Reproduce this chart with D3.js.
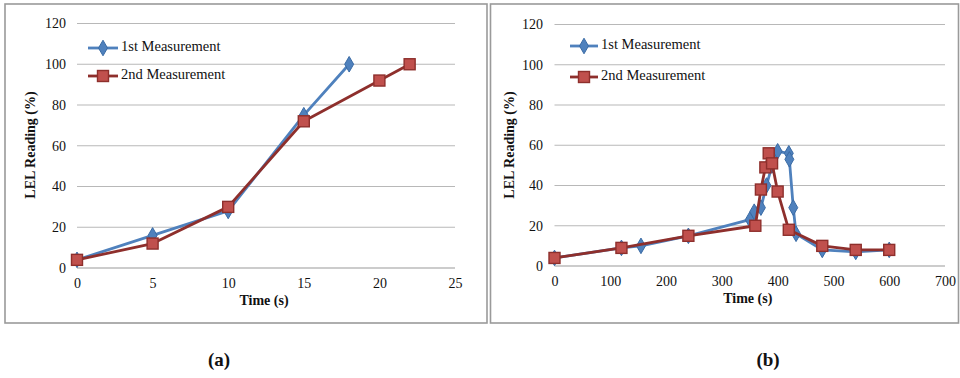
<!DOCTYPE html>
<html>
<head>
<meta charset="utf-8">
<script src="https://cdn.jsdelivr.net/npm/d3@7/dist/d3.min.js"></script>
<style>
  html, body { margin: 0; padding: 0; background: #fff; }
  svg { display: block; }
</style>
</head>
<body>
<svg id="fig" width="960" height="378"></svg>
<script>
// Panel (a): LEL reading versus time, short test
const timeA1 = [0, 5, 10, 15, 18];
const lelA1  = [4, 16, 28, 75, 100];
const timeA2 = [0, 5, 10, 15, 20, 22];
const lelA2  = [4, 12, 30, 72, 92, 100];
const xTicksA = [0, 5, 10, 15, 20, 25];

// Panel (b): LEL reading versus time, long test
const timeB1 = [0, 120, 155, 240, 350, 358, 370, 380, 390, 400, 420, 421, 428, 433, 480, 540, 600];
const lelB1  = [4, 9, 10, 15, 23, 27, 29, 40, 50, 57, 56, 53, 29, 16, 8, 7, 8];
const timeB2 = [0, 120, 240, 360, 370, 378, 384, 390, 400, 420, 480, 540, 600];
const lelB2  = [4, 9, 15, 20, 38, 49, 56, 51, 37, 18, 10, 8, 8];
const xTicksB = [0, 100, 200, 300, 400, 500, 600, 700];

const yTicks = [0, 20, 40, 60, 80, 100, 120];
const seriesNames = ["1st Measurement", "2nd Measurement"];
const panelLabels = ["(a)", "(b)"];

const FONT = "'Liberation Serif', 'Times New Roman', Times, 'DejaVu Serif', serif";
const BLUE = "#4F81BD", BLUE_DARK = "#3A6BA5";
const RED = "#C0504D", RED_DARK = "#8E2F2C";
const SQ = 11;

const svg = d3.select("#fig");

// apply the serif face and size to a text selection
function serif(sel, size, bold) {
  return sel.style("font-family", FONT).style("font-size", size + "px")
    .style("font-weight", bold ? "bold" : "normal").style("fill", "#111");
}

const panels = [
  { frame: [5, 4, 482, 319], plot: { x0: 77, x1: 455, y0: 23.5, y1: 268 },
    xDomain: [0, 25], xTicks: xTicksA, yTitleX: 32, tickRight: 66,
    legend: { x0: 88, x1: 118, tx: 121, y1: 48, y2: 76 },
    s1: [timeA1, lelA1], s2: [timeA2, lelA2], label: panelLabels[0], labelX: 219 },
  { frame: [490.5, 4, 468, 319], plot: { x0: 554.5, x1: 945, y0: 24.5, y1: 266 },
    xDomain: [0, 700], xTicks: xTicksB, yTitleX: 511, tickRight: 543,
    legend: { x0: 570, x1: 598, tx: 601, y1: 46, y2: 77 },
    s1: [timeB1, lelB1], s2: [timeB2, lelB2], label: panelLabels[1], labelX: 768 }
];

panels.forEach(p => {
  const g = svg.append("g");
  // outer frame
  g.append("rect")
    .attr("x", p.frame[0]).attr("y", p.frame[1])
    .attr("width", p.frame[2]).attr("height", p.frame[3])
    .attr("fill", "none").attr("stroke", "#9a9a9a").attr("stroke-width", 1.6);

  const x = d3.scaleLinear().domain(p.xDomain).range([p.plot.x0, p.plot.x1]);
  const y = d3.scaleLinear().domain([0, 120]).range([p.plot.y1, p.plot.y0]);

  // horizontal gridlines
  g.append("g").selectAll("line").data(yTicks).join("line")
    .attr("x1", p.plot.x0).attr("x2", p.plot.x1)
    .attr("y1", d => y(d)).attr("y2", d => y(d))
    .attr("stroke", d => d === 0 ? "#9a9a9a" : "#b8b8b8").attr("stroke-width", 1.2);

  // y tick labels
  const yAxis = d3.axisLeft(y).tickValues(yTicks).tickSize(0).tickPadding(0);
  const ya = g.append("g").attr("transform", `translate(${p.tickRight},0)`).call(yAxis);
  ya.select(".domain").remove();
  serif(ya.selectAll("text"), 14, false);

  // x tick labels
  const xAxis = d3.axisBottom(x).tickValues(p.xTicks).tickSize(0).tickPadding(0);
  const xa = g.append("g").attr("transform", `translate(0,${p.plot.y1 + 10})`).call(xAxis);
  xa.select(".domain").remove();
  serif(xa.selectAll("text"), 14, false);

  // axis titles
  serif(g.append("text")
    .attr("x", (p.plot.x0 + p.plot.x1) / 2 - 2).attr("y", p.plot.y1 + 37)
    .attr("text-anchor", "middle"), 14, true)
    .text("Time (s)");
  serif(g.append("text")
    .attr("transform", `translate(${p.yTitleX},145) rotate(-90)`)
    .attr("text-anchor", "middle").attr("dominant-baseline", "middle"), 14, true)
    .text("LEL Reading (%)");

  const line = d3.line().x(d => x(d[0])).y(d => y(d[1]));
  const pts = s => s[0].map((t, i) => [t, s[1][i]]);
  const diamond = d3.symbol().type(d3.symbolDiamond).size(70);

  // series 1 (blue, diamonds)
  g.append("path").datum(pts(p.s1)).attr("d", line)
    .attr("fill", "none").attr("stroke", BLUE).attr("stroke-width", 2.8).attr("stroke-linejoin", "round");
  g.append("g").selectAll("path").data(pts(p.s1)).join("path")
    .attr("d", diamond)
    .attr("transform", d => `translate(${x(d[0])},${y(d[1])})`)
    .attr("fill", BLUE).attr("stroke", BLUE_DARK).attr("stroke-width", 1);

  // series 2 (red, squares)
  g.append("path").datum(pts(p.s2)).attr("d", line)
    .attr("fill", "none").attr("stroke", RED_DARK).attr("stroke-width", 2.8).attr("stroke-linejoin", "round");
  g.append("g").selectAll("rect").data(pts(p.s2)).join("rect")
    .attr("x", d => x(d[0]) - SQ / 2).attr("y", d => y(d[1]) - SQ / 2)
    .attr("width", SQ).attr("height", SQ)
    .attr("fill", RED).attr("stroke", RED_DARK).attr("stroke-width", 1.4);

  // legend
  const L = p.legend, mid = (L.x0 + L.x1) / 2;
  g.append("line").attr("x1", L.x0).attr("x2", L.x1).attr("y1", L.y1).attr("y2", L.y1)
    .attr("stroke", BLUE).attr("stroke-width", 2.8);
  g.append("path").attr("d", diamond).attr("transform", `translate(${mid},${L.y1})`)
    .attr("fill", BLUE).attr("stroke", BLUE_DARK).attr("stroke-width", 1);
  serif(g.append("text").attr("x", L.tx).attr("y", L.y1).attr("dominant-baseline", "middle"), 14.5, false)
    .text(seriesNames[0]);

  g.append("line").attr("x1", L.x0).attr("x2", L.x1).attr("y1", L.y2).attr("y2", L.y2)
    .attr("stroke", RED_DARK).attr("stroke-width", 2.8);
  g.append("rect").attr("x", mid - SQ / 2).attr("y", L.y2 - SQ / 2).attr("width", SQ).attr("height", SQ)
    .attr("fill", RED).attr("stroke", RED_DARK).attr("stroke-width", 1.4);
  serif(g.append("text").attr("x", L.tx).attr("y", L.y2).attr("dominant-baseline", "middle"), 14.5, false)
    .text(seriesNames[1]);

  // panel label
  serif(g.append("text").attr("x", p.labelX).attr("y", 366)
    .attr("text-anchor", "middle"), 19, true)
    .text(p.label);
});
</script>
</body>
</html>
